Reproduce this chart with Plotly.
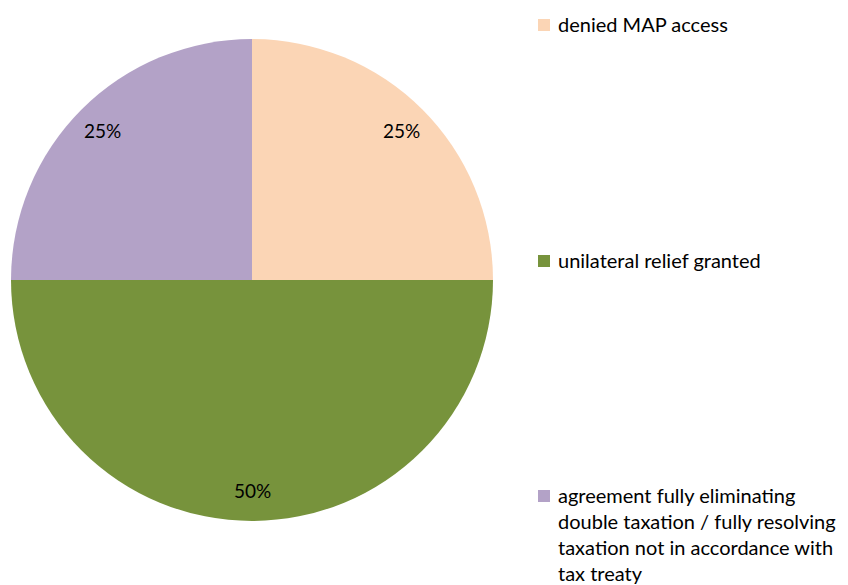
import math
import plotly.graph_objects as go

labels = ["denied MAP access", "unilateral relief granted",
          "agreement fully eliminating double taxation / fully resolving taxation not in accordance with tax treaty"]
legend_text = ["denied MAP access", "unilateral relief granted",
               "agreement fully eliminating<br>double taxation / fully resolving<br>taxation not in accordance with<br>tax treaty"]
values = [25, 50, 25]
colors = ["#FBD5B5", "#77933C", "#B3A2C7"]

W, H = 848, 585
FONT = "Lato, Calibri, Carlito, sans-serif"
FS = 20

# pie geometry in pixels
cx, cy, R = 252, 280, 241
dom_x = [(cx - R) / W, (cx + R) / W]
dom_y = [1 - (cy + R) / H, 1 - (cy - R) / H]

fig = go.Figure(go.Pie(
    labels=labels, values=values, sort=False, direction="clockwise", rotation=0,
    marker=dict(colors=colors, line=dict(width=0)),
    textinfo="none", hoverinfo="label+percent",
    domain=dict(x=dom_x, y=dom_y), showlegend=False,
))

annotations = []
total = sum(values)
cum = 0
for v in values:
    mid = (cum + v / 2) / total * 2 * math.pi
    cum += v
    r = 0.875 * R
    px = cx + r * math.sin(mid)
    py = cy - r * math.cos(mid)
    annotations.append(dict(x=px / W, y=1 - py / H, xref="paper", yref="paper",
                            xanchor="center", yanchor="middle",
                            text=f"{round(v / total * 100)}%", showarrow=False,
                            font=dict(family=FONT, size=FS - 1, color="#000000")))

# manual legend
leg_y = [25, 261, 496]
shapes = []
for i, (t, c) in enumerate(zip(legend_text, colors)):
    y = leg_y[i]
    shapes.append(dict(type="rect", xref="paper", yref="paper",
                       x0=538 / W, x1=550 / W, y0=1 - (y + 6) / H, y1=1 - (y - 6) / H,
                       fillcolor=c, line=dict(width=0)))
    annotations.append(dict(x=556 / W, y=1 - (y - 15) / H, xref="paper", yref="paper",
                            xanchor="left", yanchor="top", align="left",
                            text=t, showarrow=False,
                            font=dict(family=FONT, size=FS, color="#000000")))

fig.update_layout(
    width=W, height=H, margin=dict(l=0, r=0, t=0, b=0),
    paper_bgcolor="white", plot_bgcolor="white",
    annotations=annotations, shapes=shapes, showlegend=False,
)
fig.write_html("out.html")
